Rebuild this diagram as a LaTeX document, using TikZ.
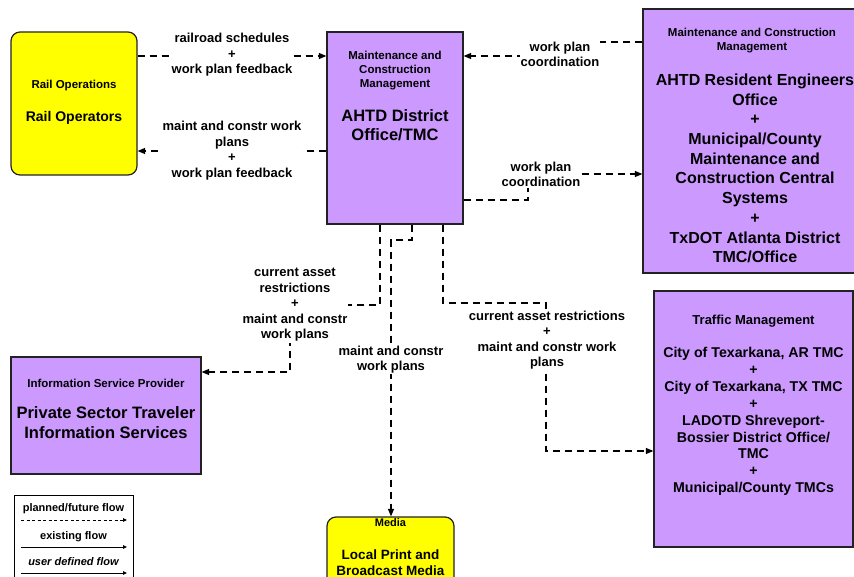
\documentclass[tikz,border=0pt]{standalone}
\usepackage{fontspec}
\setmainfont{Liberation Sans}
\usetikzlibrary{arrows.meta}
\definecolor{boxpurple}{HTML}{CC99FF}
\definecolor{boxyellow}{HTML}{FFFF00}
\definecolor{edgecol}{HTML}{222222}
\tikzset{
 pbox/.style={draw=edgecol, line width=1.2pt, fill=boxpurple, inner sep=0pt},
 ybox/.style={draw=edgecol, line width=1.2pt, fill=boxyellow, rounded corners=9pt, inner sep=0pt},
 ttl/.style={font=\fontsize{11.5}{14}\selectfont\bfseries, align=center, inner sep=0pt},
 flow/.style={line width=1.2pt, dash pattern=on 7.5pt off 4.5pt, -{Triangle[length=7.5pt,width=6pt]}},
 flowlab/.style={font=\fontsize{13}{15.5}\selectfont\bfseries, align=center, fill=white, inner sep=1pt},
 legtxt/.style={font=\fontsize{11}{12}\selectfont\bfseries, inner sep=0pt},
 legarrow/.style={line width=0.9pt, -{Triangle[length=4pt,width=3.5pt]}},
}
\begin{document}
\begin{tikzpicture}[x=1pt,y=-1pt]
\useasboundingbox (0,0) rectangle (854,577);
\clip (0,0) rectangle (854,577);
\fill[white] (0,0) rectangle (854,577);

% level coordinates
\coordinate (y42) at (0,42);
\coordinate (y56) at (0,56);
\coordinate (y151) at (0,151);
\coordinate (y174) at (0,174);
\coordinate (y200) at (0,200);
\coordinate (y372) at (0,372);
\coordinate (y451) at (0,451);
\coordinate (x380) at (380,0);
\coordinate (x412) at (412,0);
\coordinate (x443) at (443,0);
\coordinate (x391) at (391,0);

% boxes
\node[ybox, minimum width=126pt, minimum height=143pt] (rail) at (74,103.5) {};
\node[pbox, minimum width=136pt, minimum height=192pt] (ahtd) at (395,128) {};
\node[pbox, minimum width=224pt, minimum height=264pt] (re) at (755,141) {};
\node[pbox, minimum width=190pt, minimum height=117pt] (isp) at (106,415.5) {};
\node[pbox, minimum width=199pt, minimum height=256pt] (tm) at (753.5,419) {};
\node[ybox, minimum width=127pt, minimum height=78pt] (media) at (390.5,556) {};
\node[draw=black, line width=0.9pt, fill=white, minimum width=119pt, minimum height=95pt, inner sep=0pt] (legend) at (73.5,542.5) {};

% box texts
\node[ttl] (railt) at (74,86) {Rail Operations};
\node[font=\fontsize{14}{17}\selectfont\bfseries, inner sep=0pt] (railm) at (74,118) {Rail Operators};

\node[ttl] (ahtdt) at (395,71) {Maintenance and\\Construction\\Management};
\node[font=\fontsize{16.5}{19}\selectfont\bfseries, align=center, inner sep=0pt] (ahtdm) at (395,125.5) {AHTD District\\Office/TMC};

\node[ttl] (ret) at (752,41) {Maintenance and Construction\\Management};
\node[font=\fontsize{16}{19.7}\selectfont\bfseries, align=center, inner sep=0pt] (rem) at (755,168.5) {AHTD Resident Engineers\\Office\\+\\Municipal/County\\Maintenance and\\Construction Central\\Systems\\+\\TxDOT Atlanta District\\TMC/Office};

\node[ttl] (ispt) at (106,383) {Information Service Provider};
\node[font=\fontsize{16.5}{20}\selectfont\bfseries, align=center, inner sep=0pt] (ispm) at (106,423) {Private Sector Traveler\\Information Services};

\node[font=\fontsize{13}{15}\selectfont\bfseries, inner sep=0pt] (tmt) at (753.5,321) {Traffic Management};
\node[font=\fontsize{14.2}{16.9}\selectfont\bfseries, align=center, inner sep=0pt] (tmm) at (753.5,421.5) {City of Texarkana, AR TMC\\+\\City of Texarkana, TX TMC\\+\\LADOTD Shreveport-\\Bossier District Office/\\TMC\\+\\Municipal/County TMCs};

\node[font=\fontsize{11}{13}\selectfont\bfseries, inner sep=0pt] (mediat) at (390.5,523) {Media};
\node[font=\fontsize{13.5}{16}\selectfont\bfseries, align=center, inner sep=0pt] (mediam) at (390.5,563) {Local Print and\\Broadcast Media};

% legend
\node[legtxt] (lg1) at (73.5,509) {planned/future flow};
\node[legtxt] (lg2) at (73.5,537) {existing flow};
\node[legtxt, font=\fontsize{11}{12}\selectfont\bfseries\itshape] (lg3) at (73.5,562) {user defined flow};
\coordinate (la1) at (21,520); \coordinate (lb1) at (127,520);
\coordinate (la2) at (21,547); \coordinate (lb2) at (127,547);
\coordinate (la3) at (21,573); \coordinate (lb3) at (127,573);
\draw[legarrow, dash pattern=on 3pt off 2.5pt] (la1) -- (lb1);
\draw[legarrow] (la2) -- (lb2);
\draw[legarrow] (la3) -- (lb3);

% connectors
\draw[flow] (rail.east |- y56) -- (ahtd.west |- y56);
\draw[flow] (ahtd.west |- y151) -- (rail.east |- y151);
\draw[flow] (re.west |- y42) -- (560,42) -- (560,56) -- (ahtd.east |- y56);
\draw[flow] (ahtd.east |- y200) -- (528,200) -- (528,174) -- (re.west |- y174);
\draw[flow] (ahtd.south -| x380) -- (380,305) -- (290,305) -- (290,372) -- (isp.east |- y372);
\draw[flow] (ahtd.south -| x412) -- (412,240) -- (391,240) -- (media.north -| x391);
\draw[flow] (ahtd.south -| x443) -- (443,303) -- (546,303) -- (546,451) -- (tm.west |- y451);

% connector labels
\node[flowlab] (l1) at (232,55) {railroad schedules\\+\\work plan feedback};
\node[flowlab] (l2) at (232,150.5) {maint and constr work\\plans\\+\\work plan feedback};
\node[flowlab] (l3) at (560,54.5) {work plan\\coordination};
\node[flowlab] (l4) at (541,174.5) {work plan\\coordination};
\node[flowlab] (l5) at (295,305) {current asset\\restrictions\\+\\maint and constr\\work plans};
\node[flowlab] (l6) at (391,359.5) {maint and constr\\work plans};
\node[flowlab] (l7) at (547,340) {current asset restrictions\\+\\maint and constr work\\plans};
\end{tikzpicture}
\end{document}
